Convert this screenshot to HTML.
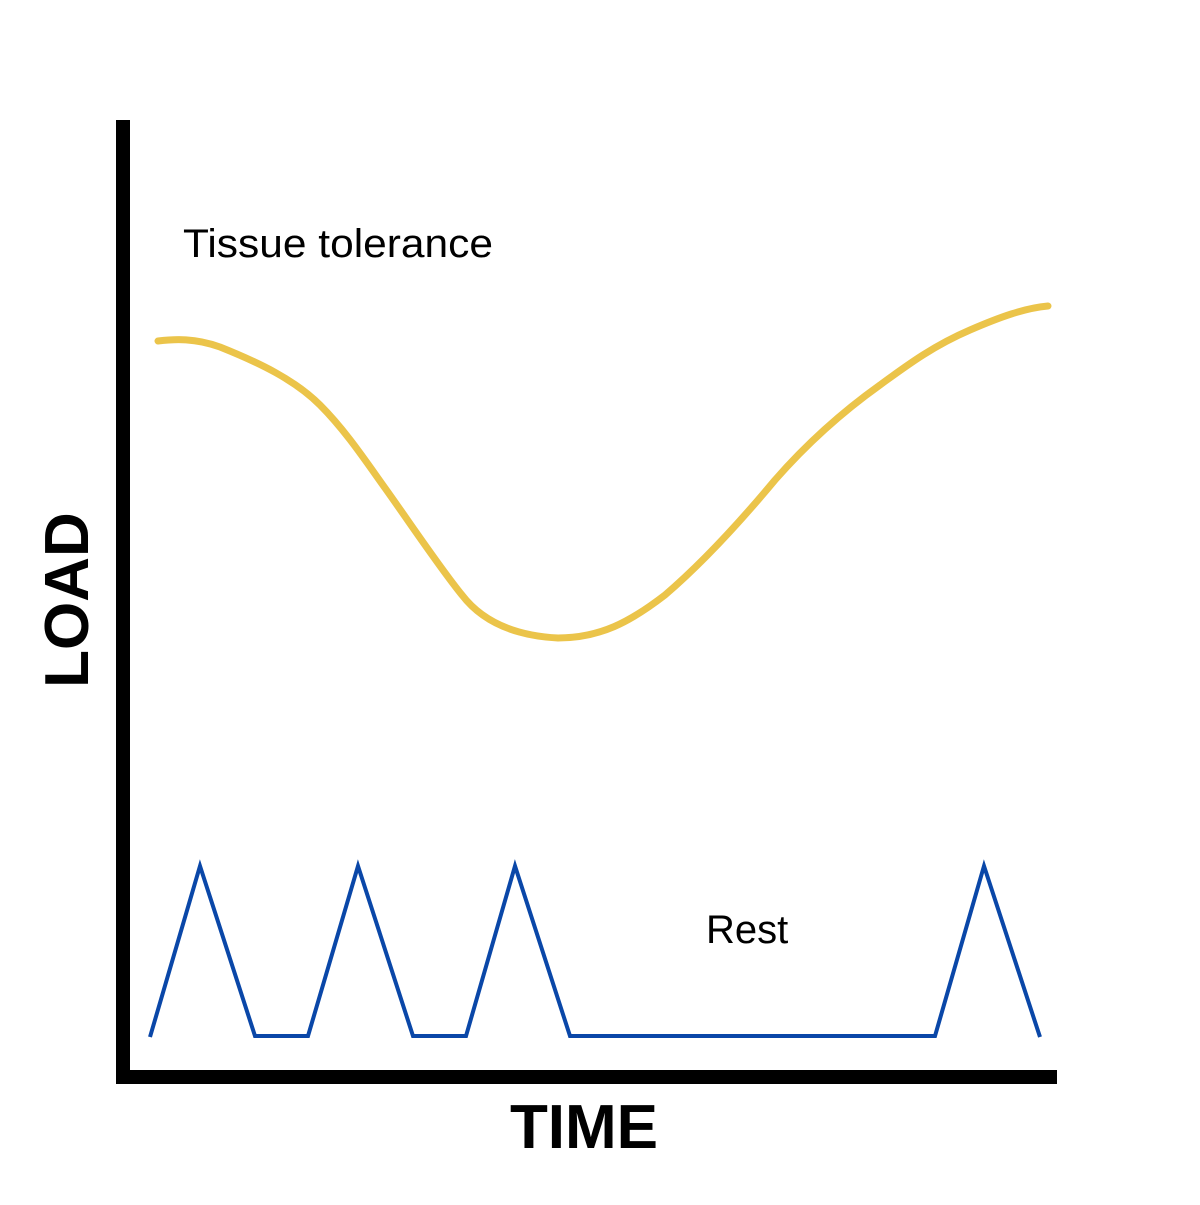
<!DOCTYPE html>
<html><head><meta charset="utf-8"><style>html,body{margin:0;padding:0;background:#fff}</style></head>
<body>
<svg width="1200" height="1200" viewBox="0 0 1200 1200" xmlns="http://www.w3.org/2000/svg">
<rect width="1200" height="1200" fill="#fff"/>
<line x1="123" y1="120" x2="123" y2="1082" stroke="#000" stroke-width="14"/>
<line x1="116" y1="1077" x2="1057" y2="1077" stroke="#000" stroke-width="14"/>
<path d="M158,341 C175,339 195,338 220,347 C260,363 295,380 320,405 C345,430 365,460 385,488 C410,523 440,568 462,595 C485,625 520,636 558,638 C600,638 630,622 665,595 C700,565 740,522 775,480 C810,440 845,410 880,385 C910,363 935,345 970,330 C1000,317 1025,308 1048,306" fill="none" stroke="#EBC44A" stroke-width="7" stroke-linecap="round"/>
<polyline points="150,1037 200,866 255,1036 308,1036 358,866 413,1036 466,1036 515,866 570,1036 935,1036 984,866 1040,1037" fill="none" stroke="#0A47A8" stroke-width="4" stroke-linejoin="miter"/>
<text x="183" y="257" font-family="Liberation Sans, sans-serif" font-size="40" fill="#000" textLength="310" lengthAdjust="spacingAndGlyphs">Tissue tolerance</text>
<text x="706" y="943" font-family="Liberation Sans, sans-serif" font-size="40" fill="#000">Rest</text>
<text x="584" y="1148" text-anchor="middle" font-family="Liberation Sans, sans-serif" font-weight="bold" font-size="62" fill="#000">TIME</text>
<text transform="translate(88,600) rotate(-90)" text-anchor="middle" font-family="Liberation Sans, sans-serif" font-weight="bold" font-size="62" fill="#000">LOAD</text>
</svg>
</body></html>
